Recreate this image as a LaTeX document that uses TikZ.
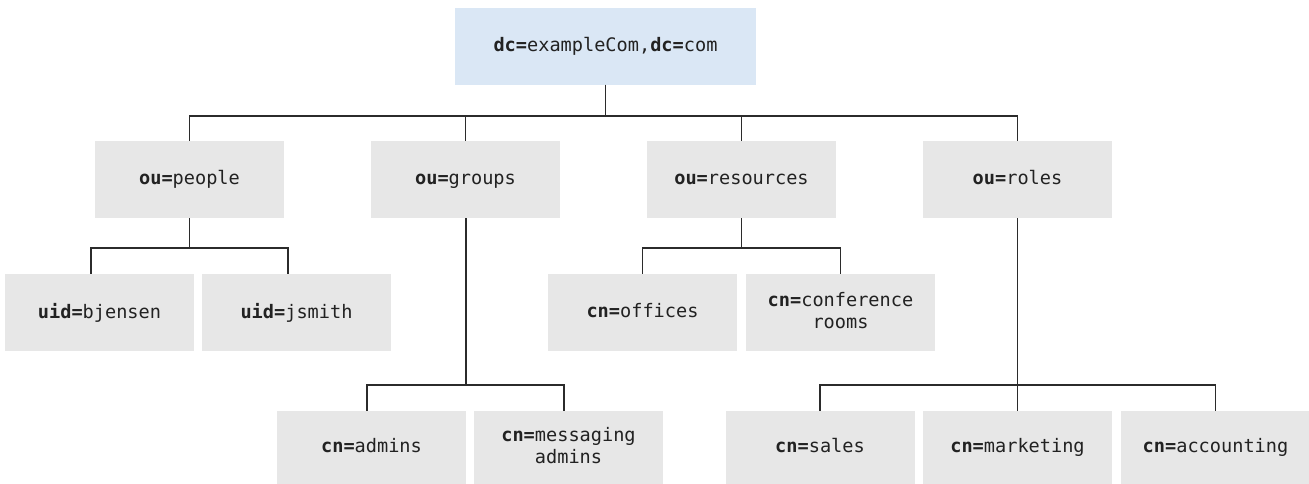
\documentclass[tikz,border=0pt]{standalone}
\usepackage{fontspec}
\setmonofont{DejaVu Sans Mono}
\definecolor{boxgray}{HTML}{E7E7E7}
\definecolor{rootblue}{HTML}{DAE7F5}
\definecolor{linecol}{HTML}{2B2B2B}
\definecolor{txt}{HTML}{222222}
\newcommand{\kv}[2]{\vphantom{Agj}\textbf{#1=}#2}
\newcommand{\plainline}[1]{\vphantom{Agj}#1}
\begin{document}
\begin{tikzpicture}[x=1pt,y=-1pt,
  gbox/.style={fill=boxgray, inner sep=0pt, outer sep=0pt, minimum width=189pt, minimum height=77pt,
     text=txt, align=center, font=\ttfamily\fontsize{18.6}{22}\selectfont},
  rootbox/.style={gbox, fill=rootblue, minimum width=301pt},
  conn/.style={draw=linecol, line width=1.8pt}]
\useasboundingbox (0,0) rectangle (1309,484);
% root
\node[rootbox] (root) at (605.5,46.5) {\kv{dc}{exampleCom,}\kv{dc}{com}};
% level 1
\node[gbox] (people) at (189.5,179.5) {\kv{ou}{people}};
\node[gbox] (groups) at (465.5,179.5) {\kv{ou}{groups}};
\node[gbox] (resources) at (741.5,179.5) {\kv{ou}{resources}};
\node[gbox] (roles) at (1017.5,179.5) {\kv{ou}{roles}};
% level 2
\node[gbox] (bjensen) at (99.5,312.5) {\kv{uid}{bjensen}};
\node[gbox] (jsmith) at (296.5,312.5) {\kv{uid}{jsmith}};
\node[gbox] (offices) at (642.5,312.5) {\kv{cn}{offices}};
\node[gbox] (conference) at (840.5,312.5) {\kv{cn}{conference}\\\plainline{rooms}};
% level 3
\node[gbox, minimum height=73pt] (admins) at (371.5,447.5) {\kv{cn}{admins}};
\node[gbox, minimum height=73pt] (messaging) at (568.5,447.5) {\kv{cn}{messaging}\\\plainline{admins}};
\node[gbox, minimum height=73pt] (sales) at (820,447.5) {\kv{cn}{sales}};
\node[gbox, minimum height=73pt] (marketing) at (1017.5,447.5) {\kv{cn}{marketing}};
\node[gbox, minimum height=73pt] (accounting) at (1215.5,447.5) {\kv{cn}{accounting}};
% connectors
\foreach \c in {people,groups,resources,roles}
  \draw[conn] (root.south) -- ++(0,31) -| (\c.north);
\draw[conn] (people.south) -- ++(0,30) -| ([xshift=-8.5pt]bjensen.north);
\draw[conn] (people.south) -- ++(0,30) -| ([xshift=-8.5pt]jsmith.north);
\draw[conn] (resources.south) -- ++(0,30) -| (offices.north);
\draw[conn] (resources.south) -- ++(0,30) -| (conference.north);
\draw[conn] ([xshift=0.5pt]groups.south) -- ++(0,167) -| ([xshift=-4.5pt]admins.north);
\draw[conn] ([xshift=0.5pt]groups.south) -- ++(0,167) -| ([xshift=-4.5pt]messaging.north);
\foreach \c in {sales,marketing,accounting}
  \draw[conn] (roles.south) -- ++(0,167) -| (\c.north);
\end{tikzpicture}
\end{document}
